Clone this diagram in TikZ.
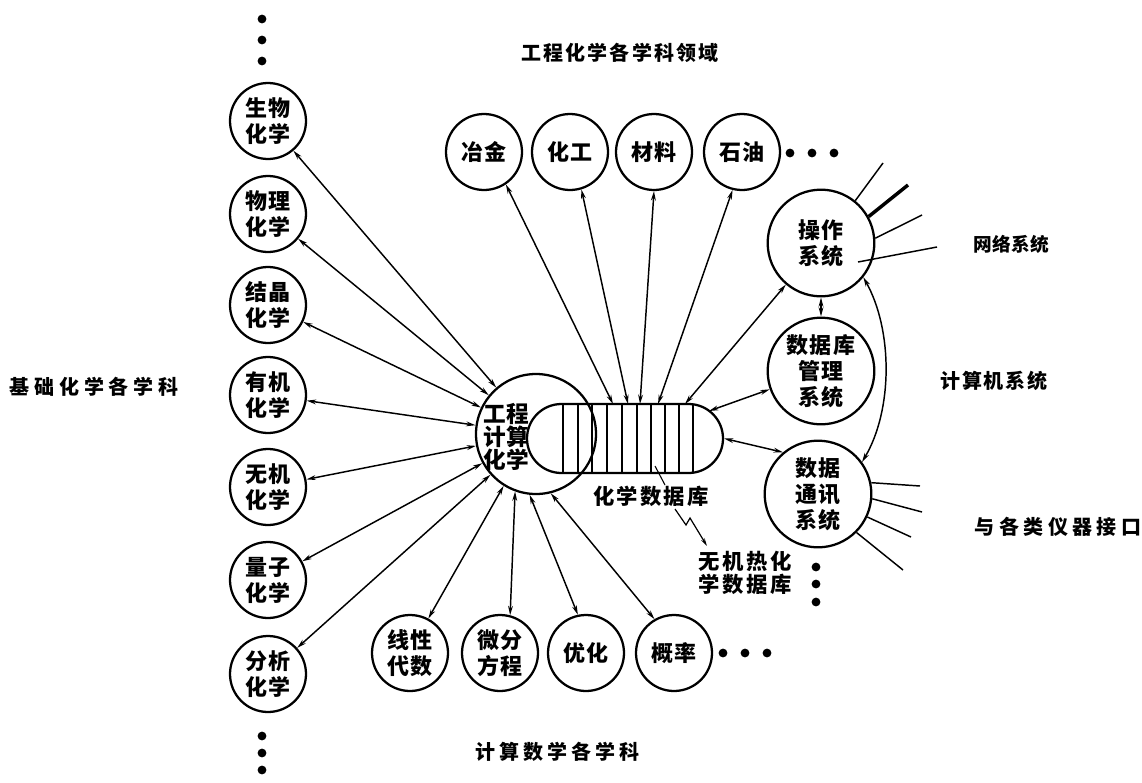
\documentclass[tikz,border=0pt]{standalone}
\usepackage{fontspec}
\newfontfamily\cjk{Noto Sans CJK SC}
\usetikzlibrary{arrows.meta,shapes.misc,calc}
\makeatletter
\newdimen\lsp@amt
\newcommand\lsp[2]{\lsp@amt=#1\relax\lsp@first#2\relax}
\def\lsp@first#1{#1\lsp@next}
\def\lsp@next#1{\ifx#1\relax\else\kern\lsp@amt#1\expandafter\lsp@next\fi}
\makeatother
\begin{document}
\begin{tikzpicture}[x=0.75pt,y=-0.75pt,
  circ/.style={draw, circle, line width=1.7pt, inner sep=0pt, minimum size=57pt, align=center,
    font=\cjk\bfseries\fontsize{16.5}{19.5}\selectfont},
  bigcirc/.style={circ, minimum size=80pt},
  lab/.style={inner sep=0pt, align=center, font=\cjk\bfseries\fontsize{15}{17}\selectfont},
  biarrow/.style={{Stealth[length=7pt,width=3.6pt]}-{Stealth[length=7pt,width=3.6pt]}, line width=1.1pt},
  ray/.style={line width=1.1pt},
  dot/.style={fill=black}]
\useasboundingbox (0,0) rectangle (1142,782);

% left column
\node[circ] (l1) at (268,121) {\lsp{1pt}{生物}\\\lsp{1pt}{化学}};
\node[circ] (l2) at (268,214) {\lsp{1pt}{物理}\\\lsp{1pt}{化学}};
\node[circ] (l3) at (268,305) {\lsp{1pt}{结晶}\\\lsp{1pt}{化学}};
\node[circ] (l4) at (268,395) {\lsp{1pt}{有机}\\\lsp{1pt}{化学}};
\node[circ] (l5) at (268,487) {\lsp{1pt}{无机}\\\lsp{1pt}{化学}};
\node[circ] (l6) at (268,580) {\lsp{1pt}{量子}\\\lsp{1pt}{化学}};
\node[circ] (l7) at (268,674) {\lsp{1pt}{分析}\\\lsp{1pt}{化学}};

% top row
\node[circ] (u1) at (484,152) {\lsp{1.5pt}{冶金}};
\node[circ] (u2) at (570,152) {\lsp{1.5pt}{化工}};
\node[circ] (u3) at (654,152) {\lsp{1.5pt}{材料}};
\node[circ] (u4) at (742,152) {\lsp{1.5pt}{石油}};

% bottom row
\node[circ] (b1) at (410,653) {\lsp{1pt}{线性}\\\lsp{1pt}{代数}};
\node[circ] (b2) at (500,653) {\lsp{1pt}{微分}\\\lsp{1pt}{方程}};
\node[circ] (b3) at (586,653) {\lsp{1.5pt}{优化}};
\node[circ] (b4) at (674,653) {\lsp{1.5pt}{概率}};

% right column
\node[bigcirc] (os) at (821,243) {\lsp{1pt}{操作}\\\lsp{1pt}{系统}};
\node[bigcirc] (dbms) at (821,371) {\lsp{1pt}{数据库}\\\lsp{1pt}{管理}\\\lsp{1pt}{系统}};
\node[bigcirc] (dc) at (818,494) {\lsp{1pt}{数据}\\\lsp{1pt}{通讯}\\\lsp{1pt}{系统}};

% centre circle and database capsule
\node[draw, circle, line width=1.7pt, inner sep=0pt, minimum size=90pt] (c) at (536,434) {};
\node[draw, rounded rectangle, line width=1.7pt, inner sep=0pt, minimum width=147pt, minimum height=51.75pt] (db) at (625,438.5) {};
\foreach \x in {563,578,592,607,622,637,651,665,679,693}
  \draw[line width=1pt] (\x,404) -- (\x,473);
\node[lab, font=\cjk\bfseries\fontsize{17}{17}\selectfont] (ctext) at (506,437) {\lsp{0.5pt}{工程}\\\lsp{0.5pt}{计算}\\\lsp{0.5pt}{化学}};

% group labels
\node[lab] (g1) at (620,53) {\lsp{1.6pt}{工程化学各学科领域}};
\node[lab] (g2) at (94,387) {\lsp{3.6pt}{基础化学各学科}};
\node[lab] (g3) at (557,752) {\lsp{3pt}{计算数学各学科}};
\node[lab, font=\cjk\bfseries\fontsize{14}{17}\selectfont] (g4) at (1011,244) {\lsp{0.3pt}{网络系统}};
\node[lab] (g5) at (994,381) {\lsp{1.2pt}{计算机系统}};
\node[lab] (g6) at (1058,527) {\lsp{3.3pt}{与各类仪器接口}};
\node[lab, font=\cjk\bfseries\fontsize{16}{17}\selectfont] (dblab) at (651,496) {\lsp{1.5pt}{化学数据库}};
\node[lab, font=\cjk\bfseries\fontsize{16}{17.25}\selectfont] (inorg) at (745,573) {\lsp{2pt}{无机热化}\\\lsp{2pt}{学数据库}};

% left arrows
\foreach \n in {l1,l2,l3,l4,l5,l6,l7}
  \draw[biarrow] (\n) -- (c);

% bottom arrows
\draw[biarrow] (c.-122) -- (b1.62);
\draw[biarrow] (c.-110) -- (b2.75);
\draw[biarrow] (c.-96) -- (b3.102);
\draw[biarrow] (c.-76) -- (b4.120);

% top arrows into database
\coordinate (t1) at (613,404);
\coordinate (t2) at (628,404);
\coordinate (t3) at (640,404);
\coordinate (t4) at (658,404);
\coordinate (t5) at (685,404);
\draw[biarrow] (u1.-56) -- (t1);
\draw[biarrow] (u2.-73) -- (t2);
\draw[biarrow] (u3.-90) -- (t3);
\draw[biarrow] (u4.-104) -- (t4);
\draw[biarrow] (os) -- (t5);

% right side arrows
\coordinate (dbr) at (709,411);
\draw[biarrow] (dbms) -- (dbr);
\draw[biarrow] (dc.130) -- (db.east);
\draw[biarrow] (os) -- (dbms);
\draw[biarrow] (os.-39) .. controls (893,330) and (893,410) .. (dc.36);

% network rays
\coordinate (n1) at (883,163);
\coordinate (n2) at (908,185);
\coordinate (n3) at (922,215);
\coordinate (n4s) at (858,262);
\coordinate (n4) at (937,247);
\draw[ray] (os.51) -- (n1);
\draw[ray, line width=2.6pt] (os.29) -- (n2);
\draw[ray] (os.5) -- (n3);
\draw[ray] (n4s) -- (n4);

% instrument rays
\coordinate (m1) at (920,486);
\coordinate (m2) at (922,512);
\coordinate (m3) at (911,537);
\coordinate (m4) at (903,570);
\draw[ray] (dc.12) -- (m1);
\draw[ray] (dc.-5) -- (m2);
\draw[ray] (dc.-25) -- (m3);
\draw[ray] (dc.-45) -- (m4);

% database label leaders
\coordinate (lead0) at (655,466);
\coordinate (lead1) at (665,485);
\draw[line width=0.8pt] (lead0) -- (lead1);
\coordinate (z0) at (675,509);
\coordinate (z1) at (686,525);
\coordinate (z2) at (690,518);
\coordinate (z3) at (707,546);
\draw[line width=0.9pt, -{Stealth[length=6pt,width=3pt]}] (z0) -- (z1) -- (z2) -- (z3);

% ellipsis dots
\foreach \p in {(262,19),(262,40),(262,61),(262,736),(262,753),(262,770),
                (790,153),(812,153),(834,153),(723,653),(745,653),(767,653),
                (816,567),(816,584),(816,602)}
  \fill[dot] \p circle[radius=3.3pt];
\end{tikzpicture}
\end{document}
